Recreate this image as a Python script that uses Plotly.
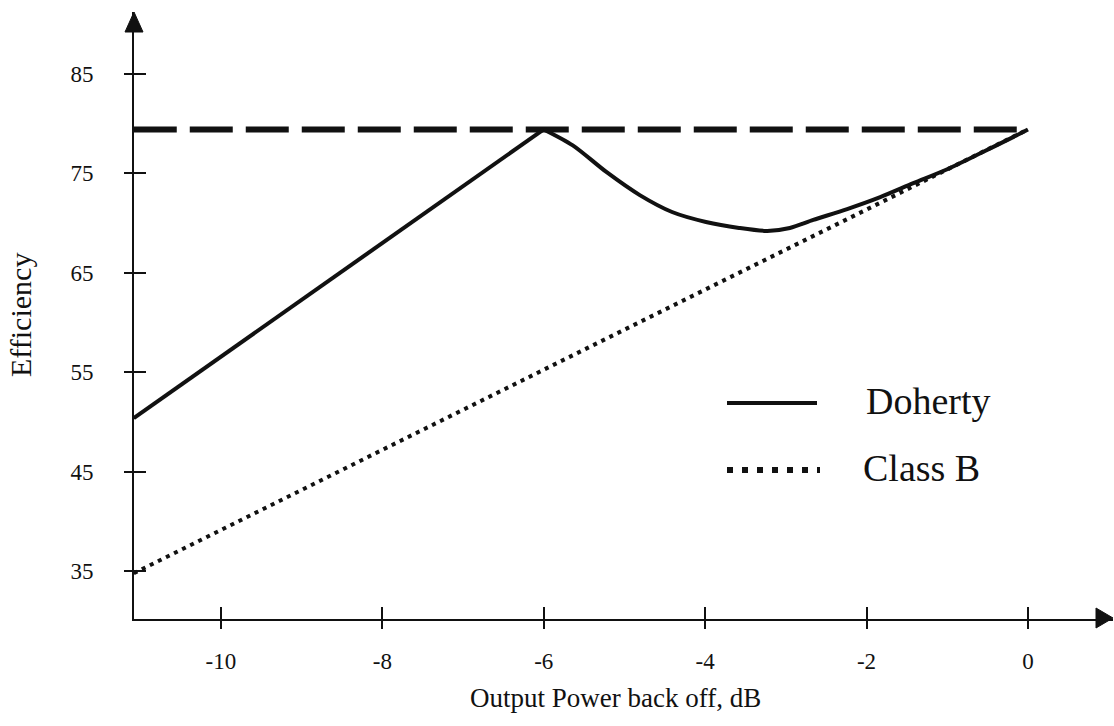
import plotly.graph_objects as go

# ---- data -------------------------------------------------------------
x_ticks = [-10, -8, -6, -4, -2, 0]
x_tick_text = ["-10", "-8", "-6", "-4", "-2", "0"]
y_ticks = [35, 45, 55, 65, 75, 85]
y_tick_text = ["35", "45", "55", "65", "75", "85"]

doherty_x = [-11.08, -6.0, -5.64, -5.22, -4.81, -4.41, -3.99, -3.58, -3.23,
             -2.95, -2.66, -2.24, -1.83, -1.42, -1.0, -0.59, -0.19, 0.0]
doherty_y = [50.4, 79.4, 77.8, 75.1, 72.8, 71.1, 70.1, 69.5, 69.2,
             69.5, 70.3, 71.4, 72.6, 74.0, 75.4, 77.0, 78.6, 79.4]
PEAK_INDEX = 1  # end of the straight rising part

classb_x = [-11.08, 0.0]
classb_y = [34.8, 79.4]

peak_x = [-11.08, 0.0]
peak_y = [79.4, 79.4]

# ---- layout geometry ---------------------------------------------------
W, H = 1114, 726
ML, MR, MT, MB = 134, 1, 12, 107
PW, PH = W - ML - MR, H - MT - MB
X_RANGE = [-11.077, 1.054]
Y_RANGE = [30.2, 91.2]


def px(xp):
    return (xp - ML) / PW


def py(yp):
    return (H - MB - yp) / PH


FONT = "Liberation Serif, Times New Roman, serif"
INK = "#111111"

fig = go.Figure()

fig.add_trace(go.Scatter(x=peak_x, y=peak_y, mode="lines",
                         line=dict(color=INK, width=6, dash="43px,13px"),
                         showlegend=False, hoverinfo="skip"))
fig.add_trace(go.Scatter(x=classb_x, y=classb_y, mode="lines", name="Class B",
                         line=dict(color=INK, width=4, dash="4px,5px"),
                         showlegend=False))
# Doherty: straight rise to the peak, then the smooth dip and recovery
fig.add_trace(go.Scatter(x=doherty_x[:PEAK_INDEX + 1], y=doherty_y[:PEAK_INDEX + 1],
                         mode="lines", name="Doherty",
                         line=dict(color=INK, width=4), showlegend=False))
fig.add_trace(go.Scatter(x=doherty_x[PEAK_INDEX:], y=doherty_y[PEAK_INDEX:],
                         mode="lines", name="Doherty",
                         line=dict(color=INK, width=4, shape="spline", smoothing=0.8),
                         showlegend=False))
# carrier for the overlaid tick axes (inside half of the crossing ticks)
fig.add_trace(go.Scatter(x=[None], y=[None], xaxis="x2", yaxis="y2",
                         showlegend=False, hoverinfo="skip"))

axis_common = dict(showgrid=False, zeroline=False, color=INK)

fig.update_layout(
    width=W, height=H,
    margin=dict(l=ML, r=MR, t=MT, b=MB),
    paper_bgcolor="white", plot_bgcolor="white",
    font=dict(family=FONT, color=INK),
    xaxis=dict(range=X_RANGE, tickvals=x_ticks, ticktext=x_tick_text,
               ticks="outside", ticklen=8, tickwidth=2, tickcolor=INK,
               showline=True, linewidth=2, linecolor=INK,
               tickfont=dict(size=23, family=FONT), ticklabelstandoff=12,
               **axis_common),
    yaxis=dict(range=Y_RANGE, tickvals=y_ticks, ticktext=y_tick_text,
               ticks="outside", ticklen=8, tickwidth=2, tickcolor=INK,
               showline=True, linewidth=2, linecolor=INK,
               tickfont=dict(size=23, family=FONT), ticklabelstandoff=26,
               **axis_common),
    xaxis2=dict(range=X_RANGE, tickvals=x_ticks, ticks="inside", ticklen=12,
                tickwidth=2, tickcolor=INK, showticklabels=False,
                overlaying="x", anchor="y2", side="bottom", **axis_common),
    yaxis2=dict(range=Y_RANGE, tickvals=y_ticks, ticks="inside", ticklen=12,
                tickwidth=2, tickcolor=INK, showticklabels=False,
                overlaying="y", anchor="x2", side="left", **axis_common),
)

# axis arrowheads
fig.add_shape(type="path", xref="paper", yref="paper",
              path=f"M {px(1113)},{py(618)} L {px(1096)},{py(608)} L {px(1096)},{py(628)} Z",
              fillcolor=INK, line=dict(color=INK, width=1))
fig.add_shape(type="path", xref="paper", yref="paper",
              path=f"M {px(134)},{py(12)} L {px(125)},{py(32)} L {px(143)},{py(32)} Z",
              fillcolor=INK, line=dict(color=INK, width=1))

# legend samples
fig.add_shape(type="line", xref="paper", yref="paper",
              x0=px(727), x1=px(817), y0=py(403), y1=py(403),
              line=dict(color=INK, width=4))
fig.add_shape(type="line", xref="paper", yref="paper",
              x0=px(727), x1=px(820), y0=py(470), y1=py(470),
              line=dict(color=INK, width=6, dash="6px,9px"))

fig.add_annotation(text="Doherty", xref="paper", yref="paper",
                   x=px(864), y=py(401), xanchor="left", yanchor="middle",
                   showarrow=False, font=dict(size=38, family=FONT, color=INK))
fig.add_annotation(text="Class B", xref="paper", yref="paper",
                   x=px(861), y=py(468), xanchor="left", yanchor="middle",
                   showarrow=False, font=dict(size=38, family=FONT, color=INK))

# axis titles
fig.add_annotation(text="Output Power back off, dB", xref="paper", yref="paper",
                   x=px(615), y=py(698), xanchor="center", yanchor="middle",
                   showarrow=False, font=dict(size=27, family=FONT, color=INK))
fig.add_annotation(text="Efficiency", xref="paper", yref="paper",
                   x=px(20), y=py(315), xanchor="center", yanchor="middle",
                   textangle=-90, showarrow=False,
                   font=dict(size=30, family=FONT, color=INK))

fig.write_html("out.html")
